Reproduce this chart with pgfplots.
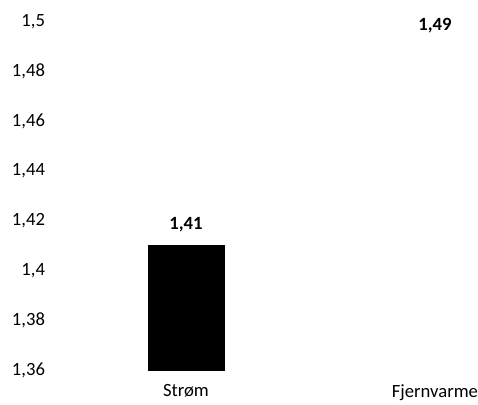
\documentclass[border=0pt]{standalone}
\usepackage{fontspec}
\setmainfont{Carlito}
\usepackage{pgfplots}
\pgfplotsset{compat=1.18}
\begin{document}
\begin{tikzpicture}[x=0.75pt,y=0.75pt]
\begin{axis}[
  scale only axis,
  width=317.25pt, height=261pt,
  ybar, bar width=57pt, bar shift=0pt,
  ymin=1.36, ymax=1.5,
  xmin=-0.526, xmax=1.173,
  ytick={1.36,1.38,...,1.5},
  xtick={0,1}, xticklabels={Strøm,Fjernvarme},
  axis line style={draw=none},
  major tick length=0pt,
  tick label style={font=\fontsize{14}{16}\selectfont, text=black},
  yticklabel style={xshift=-4pt},
  xticklabel style={yshift=-7.5pt},
  /pgf/number format/.cd, use comma, 1000 sep={}, assume math mode=true,
  /pgfplots/.cd,
  nodes near coords,
  every node near coord/.append style={font=\bfseries\fontsize{14}{16}\selectfont, yshift=6.8pt, text=black},
  clip=false,
]
\addplot[fill=black, draw=black] coordinates {(0,1.41)};
\addplot[fill=white, draw=none] coordinates {(1,1.49)};
\coordinate (sw) at (rel axis cs:0,0);
\coordinate (ne) at (rel axis cs:1,1);
\end{axis}
\pgfresetboundingbox
\path (sw) ++(-55,-35) rectangle ([yshift=22*0.75pt]ne);
\end{tikzpicture}
\end{document}
